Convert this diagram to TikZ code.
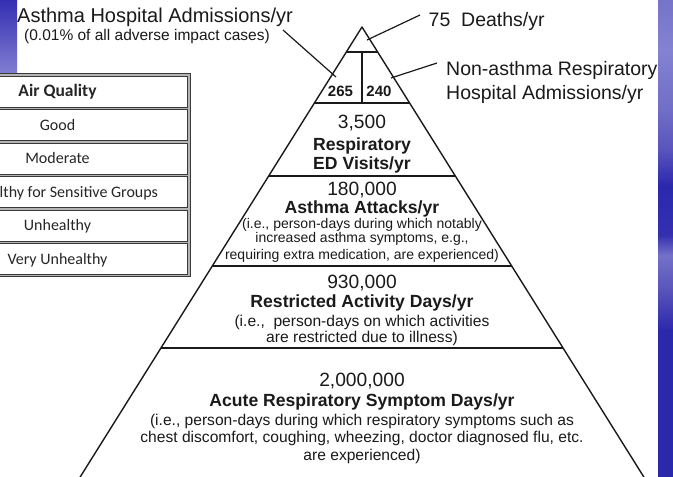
\documentclass[tikz,border=0pt]{standalone}
\usepackage{fontspec}
\setmainfont{Liberation Sans}
\newfontfamily\tabfont{Carlito}
\definecolor{ink}{HTML}{1A1A1A}
\definecolor{tbldark}{HTML}{3A3A3A}
\definecolor{tblgrey}{HTML}{B4B4B4}
\definecolor{lsTop}{RGB}{52,46,178}
\definecolor{lsBot}{RGB}{128,126,210}
\definecolor{rsA}{RGB}{118,116,200}
\definecolor{rsB}{RGB}{132,130,210}
\definecolor{rsC}{RGB}{112,110,198}
\definecolor{rsD}{RGB}{88,84,188}
\definecolor{rsE}{RGB}{44,40,174}
\definecolor{rsF}{RGB}{52,48,176}
\definecolor{rsG}{RGB}{116,113,200}
\definecolor{rsH}{RGB}{88,84,186}
\definecolor{rsI}{RGB}{44,40,172}
\begin{document}
\begin{tikzpicture}[x=1pt,y=-1pt,
  pyr/.style={draw=ink,line width=1.4pt,line join=round},
  leader/.style={draw=ink,line width=1.2pt},
  band/.style={draw=none},
  numtxt/.style={font=\fontsize{19.2}{22}\selectfont,text=ink,anchor=base,inner sep=0pt},
  ttltxt/.style={font=\bfseries\fontsize{17.6}{20}\selectfont,text=ink,anchor=base,inner sep=0pt},
  expltxt/.style={font=\fontsize{15.6}{18}\selectfont,text=ink,anchor=base,inner sep=0pt},
  smalltxt/.style={font=\fontsize{14}{16}\selectfont,text=ink,anchor=base,inner sep=0pt},
  celltxt/.style={font=\bfseries\fontsize{15}{17}\selectfont,text=ink,anchor=base,inner sep=0pt},
  lbltxt/.style={font=\fontsize{19.5}{22}\selectfont,text=ink,anchor=base west,inner sep=0pt},
  sublbl/.style={font=\fontsize{15.5}{18}\selectfont,text=ink,anchor=base west,inner sep=0pt},
  tcell/.style={draw=tbldark,fill=white,line width=0.9pt,minimum width=260pt,minimum height=31pt,
     inner sep=0pt,text height=10.5pt,text depth=0pt,font=\tabfont\fontsize{16}{18}\selectfont,text=black!85}
]
\useasboundingbox (0,0) rectangle (673,477);
\clip (0,0) rectangle (673,477);
\fill[white] (0,0) rectangle (673,477);
% decorative strips
\shade[band,top color=lsTop,bottom color=lsBot] (0,0) rectangle (17,73);
\shade[band,top color=rsA,bottom color=rsB] (658,0) rectangle (673,50.5);
\shade[band,top color=rsB,bottom color=rsC] (658,50) rectangle (673,110.5);
\shade[band,top color=rsC,bottom color=rsD] (658,110) rectangle (673,150.5);
\shade[band,top color=rsD,bottom color=rsE] (658,150) rectangle (673,185.5);
\shade[band,top color=rsE,bottom color=rsF] (658,185) rectangle (673,235.5);
\shade[band,top color=rsF,bottom color=rsG] (658,235) rectangle (673,255.5);
\shade[band,top color=rsG,bottom color=rsH] (658,255) rectangle (673,290.5);
\shade[band,top color=rsH,bottom color=rsI] (658,290) rectangle (673,330.5);
\fill[rsI] (658,330) rectangle (673,477);

% table
\fill[tblgrey] (-75,73) rectangle (190.5,276.5);
\draw[tbldark,line width=1pt] (-75,73) rectangle (190.5,276.5);
\node[tcell,font=\tabfont\bfseries\fontsize{17.5}{19}\selectfont] (t0) at (57.5,91.5) {Air Quality};
\node[tcell] (t1) at (57.5,125) {Good};
\node[tcell] (t2) at (57.5,158.5) {Moderate};
\node[tcell] (t3) at (57.5,192) {Unhealthy for Sensitive Groups};
\node[tcell] (t4) at (57.5,225.5) {Unhealthy};
\node[tcell] (t5) at (57.5,259) {Very Unhealthy};

% pyramid
\coordinate (apex) at (362,27);
\coordinate (bl) at (72,490);
\coordinate (br) at (652,490);
\draw[pyr] (bl) -- (apex) -- (br);
\coordinate (l1) at (346.3,52);  \coordinate (r1) at (377.7,52);
\coordinate (l2) at (314.3,103); \coordinate (r2) at (409.7,103);
\coordinate (l3) at (268.6,176); \coordinate (r3) at (455.4,176);
\coordinate (l4) at (212.1,266); \coordinate (r4) at (511.9,266);
\coordinate (l5) at (160.7,348); \coordinate (r5) at (563.3,348);
\coordinate (d1) at (362,52);    \coordinate (d2) at (362,103);
\draw[pyr] (l1) -- (r1);
\draw[pyr] (l2) -- (r2);
\draw[pyr] (l3) -- (r3);
\draw[pyr] (l4) -- (r4);
\draw[pyr] (l5) -- (r5);
\draw[pyr] (d1) -- (d2);

% top cells
\node[celltxt] (n265) at (340.5,96) {265};
\node[celltxt] (n240) at (379,96) {240};

% ED visits
\node[numtxt] (ed1) at (362,128) {3,500};
\node[ttltxt] (ed2) at (362,150.5) {Respiratory};
\node[ttltxt] (ed3) at (362,169) {ED Visits/yr};

% asthma attacks
\node[numtxt] (aa1) at (362,195) {180,000};
\node[ttltxt] (aa2) at (362,213.5) {Asthma Attacks/yr};
\node[smalltxt] (aa3) at (362,228.5) {(i.e., person-days during which notably};
\node[smalltxt] (aa4) at (362,242.5) {increased asthma symptoms, e.g.,};
\node[smalltxt] (aa5) at (362,259) {requiring extra medication, are experienced)};

% restricted activity
\node[numtxt] (ra1) at (362,288) {930,000};
\node[ttltxt] (ra2) at (362,307.5) {Restricted Activity Days/yr};
\node[expltxt] (ra3) at (362,326) {(i.e.,\ \ person-days on which activities};
\node[expltxt] (ra4) at (362,342.5) {are restricted due to illness)};

% acute respiratory
\node[numtxt] (ar1) at (362,386) {2,000,000};
\node[ttltxt] (ar2) at (362,406.5) {Acute Respiratory Symptom Days/yr};
\node[expltxt] (ar3) at (362,425.5) {(i.e., person-days during which respiratory symptoms such as};
\node[expltxt] (ar4) at (362,442.5) {chest discomfort, coughing, wheezing, doctor diagnosed flu, etc.};
\node[expltxt] (ar5) at (362,460) {are experienced)};

% external labels
\node[lbltxt,font=\fontsize{20}{22}\selectfont] (ah1) at (17,22.5) {Asthma Hospital Admissions/yr};
\node[sublbl] (ah2) at (24,40.5) {(0.01\% of all adverse impact cases)};
\node[lbltxt] (dth) at (428.5,26) {75\ \ Deaths/yr};
\node[lbltxt] (na1) at (446,75.5) {Non-asthma Respiratory};
\node[lbltxt] (na2) at (446,99) {Hospital Admissions/yr};

% leaders
\coordinate (ahS) at (283,30);  \coordinate (ahE) at (336,77);
\coordinate (dS) at (420,15);   \coordinate (dE) at (367,40);
\coordinate (nS) at (437,63);   \coordinate (nE) at (391,78);
\draw[leader] (ahS) -- (ahE);
\draw[leader] (dS) -- (dE);
\draw[leader] (nS) -- (nE);
\end{tikzpicture}
\end{document}
